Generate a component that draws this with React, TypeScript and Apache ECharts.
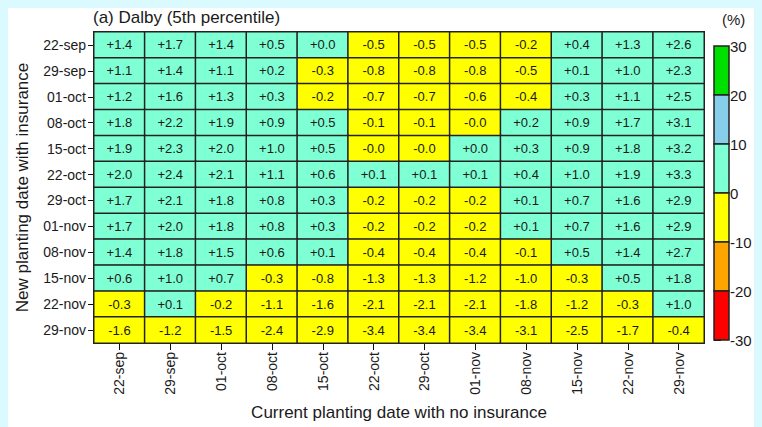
import React, { useEffect, useRef } from "react";
import * as echarts from "echarts";

const currentDates = ["22-sep", "29-sep", "01-oct", "08-oct", "15-oct", "22-oct", "29-oct", "01-nov", "08-nov", "15-nov", "22-nov", "29-nov"];
const newDates = ["22-sep", "29-sep", "01-oct", "08-oct", "15-oct", "22-oct", "29-oct", "01-nov", "08-nov", "15-nov", "22-nov", "29-nov"];

// rows: new planting date; columns: current planting date
const changes: number[][] = [
  [1.4, 1.7, 1.4, 0.5, 0.0, -0.5, -0.5, -0.5, -0.2, 0.4, 1.3, 2.6],
  [1.1, 1.4, 1.1, 0.2, -0.3, -0.8, -0.8, -0.8, -0.5, 0.1, 1.0, 2.3],
  [1.2, 1.6, 1.3, 0.3, -0.2, -0.7, -0.7, -0.6, -0.4, 0.3, 1.1, 2.5],
  [1.8, 2.2, 1.9, 0.9, 0.5, -0.1, -0.1, -0.0, 0.2, 0.9, 1.7, 3.1],
  [1.9, 2.3, 2.0, 1.0, 0.5, -0.0, -0.0, 0.0, 0.3, 0.9, 1.8, 3.2],
  [2.0, 2.4, 2.1, 1.1, 0.6, 0.1, 0.1, 0.1, 0.4, 1.0, 1.9, 3.3],
  [1.7, 2.1, 1.8, 0.8, 0.3, -0.2, -0.2, -0.2, 0.1, 0.7, 1.6, 2.9],
  [1.7, 2.0, 1.8, 0.8, 0.3, -0.2, -0.2, -0.2, 0.1, 0.7, 1.6, 2.9],
  [1.4, 1.8, 1.5, 0.6, 0.1, -0.4, -0.4, -0.4, -0.1, 0.5, 1.4, 2.7],
  [0.6, 1.0, 0.7, -0.3, -0.8, -1.3, -1.3, -1.2, -1.0, -0.3, 0.5, 1.8],
  [-0.3, 0.1, -0.2, -1.1, -1.6, -2.1, -2.1, -2.1, -1.8, -1.2, -0.3, 1.0],
  [-1.6, -1.2, -1.5, -2.4, -2.9, -3.4, -3.4, -3.4, -3.1, -2.5, -1.7, -0.4],
];

const binLows = [20, 10, 0, -10, -20, -30];
const binHighs = [30, 20, 10, 0, -10, -20];
const binColors = ["#00e000", "#87ceeb", "#7fffd4", "#ffff00", "#ffa500", "#ff0000"];

const FONT = "Liberation Sans, Arial, sans-serif";
const TXT = "#1a1a1a";

const isNeg = (v: number) => v < 0 || Object.is(v, -0);
const binFor = (v: number) => {
  for (let i = 0; i < binLows.length; i++) {
    const lo = binLows[i];
    const hi = binHighs[i];
    if (isNeg(v)) {
      if (lo < 0 && v >= lo && (v < hi || hi === 0)) return i;
    } else if (lo >= 0 && v >= lo && v < hi) return i;
  }
  return 2;
};
const fmt = (v: number) => (isNeg(v) ? "-" : "+") + Math.abs(v).toFixed(1);

export default function App() {
  const ref = useRef<HTMLDivElement>(null);
  useEffect(() => {
    document.body.style.background = "#dafaff";
    const chart = echarts.init(ref.current!, null, { renderer: "svg" });
    const data: any[] = [];
    changes.forEach((row, r) =>
      row.forEach((v, c) => data.push([c, r, v, binFor(v)]))
    );
    const bins = binLows.map((lo, i) => [lo, binHighs[i], i]);
    chart.setOption({
      animation: false,
      backgroundColor: "#ffffff",
      textStyle: { fontFamily: FONT },
      title: {
        text: "(a) Dalby (5th percentile)",
        left: 85,
        top: 1,
        padding: 0,
        textStyle: { fontFamily: FONT, fontSize: 17, fontWeight: "normal", color: TXT },
      },
      graphic: [
        {
          type: "text",
          left: 714,
          top: 4,
          style: { text: "(%)", font: `15px ${FONT}`, fill: TXT },
        },
      ],
      visualMap: {
        type: "piecewise",
        show: false,
        dimension: 3,
        seriesIndex: 0,
        pieces: binColors.map((c, i) => ({ value: i, color: c })),
      },
      grid: [
        { left: 86, top: 24, width: 610, height: 311, containLabel: false, outerBoundsMode: "none" },
        { left: 706, top: 38, width: 15, height: 294, containLabel: false, outerBoundsMode: "none" },
      ],
      xAxis: [
        {
          type: "category",
          gridIndex: 0,
          data: currentDates,
          position: "bottom",
          name: "Current planting date with no insurance",
          nameLocation: "middle",
          nameGap: 61,
          nameTextStyle: { fontFamily: FONT, fontSize: 17, color: TXT },
          axisLine: { show: true, lineStyle: { color: "#111", width: 1 } },
          axisTick: { show: true, alignWithLabel: true, length: 7, lineStyle: { color: "#111" } },
          axisLabel: { rotate: 90, fontSize: 14, color: TXT, margin: 9, interval: 0 },
          splitLine: { show: false },
        },
        {
          type: "value",
          gridIndex: 1,
          min: 0,
          max: 1,
          show: false,
        },
      ],
      yAxis: [
        {
          type: "category",
          gridIndex: 0,
          data: newDates,
          inverse: true,
          name: "New planting date with insurance",
          nameLocation: "middle",
          nameGap: 63,
          nameRotate: 90,
          nameTextStyle: { fontFamily: FONT, fontSize: 17, color: TXT },
          axisLine: { show: true, lineStyle: { color: "#111", width: 1 } },
          axisTick: { show: true, alignWithLabel: true, length: 6, lineStyle: { color: "#111" } },
          axisLabel: { fontSize: 14, color: TXT, margin: 8, interval: 0 },
          splitLine: { show: false },
        },
        {
          type: "value",
          gridIndex: 1,
          position: "right",
          min: -30,
          max: 30,
          interval: 10,
          axisLine: { show: false },
          axisTick: { show: true, length: 7, lineStyle: { color: "#111" } },
          axisLabel: { fontSize: 15, color: TXT, margin: 1 },
          splitLine: { show: false },
        },
      ],
      series: [
        {
          type: "heatmap",
          xAxisIndex: 0,
          yAxisIndex: 0,
          data,
          itemStyle: { borderColor: "#222", borderWidth: 1.5 },
          label: {
            show: true,
            formatter: (p: any) => fmt(p.value[2]),
            fontFamily: FONT,
            fontSize: 13,
            color: TXT,
          },
          emphasis: { disabled: true },
        },
        {
          type: "custom",
          xAxisIndex: 1,
          yAxisIndex: 1,
          data: bins,
          renderItem: (params: any, api: any) => {
            const lo = api.value(0);
            const hi = api.value(1);
            const idx = api.value(2);
            const p1 = api.coord([0, hi]);
            const p2 = api.coord([1, lo]);
            return {
              type: "rect",
              shape: { x: p1[0], y: p1[1], width: p2[0] - p1[0], height: p2[1] - p1[1] },
              style: { fill: binColors[idx], stroke: "#222", lineWidth: 1.5 },
            };
          },
        },
      ],
    });
    return () => chart.dispose();
  }, []);
  return <div ref={ref} style={{ width: 754, height: 419 }} />;
}
